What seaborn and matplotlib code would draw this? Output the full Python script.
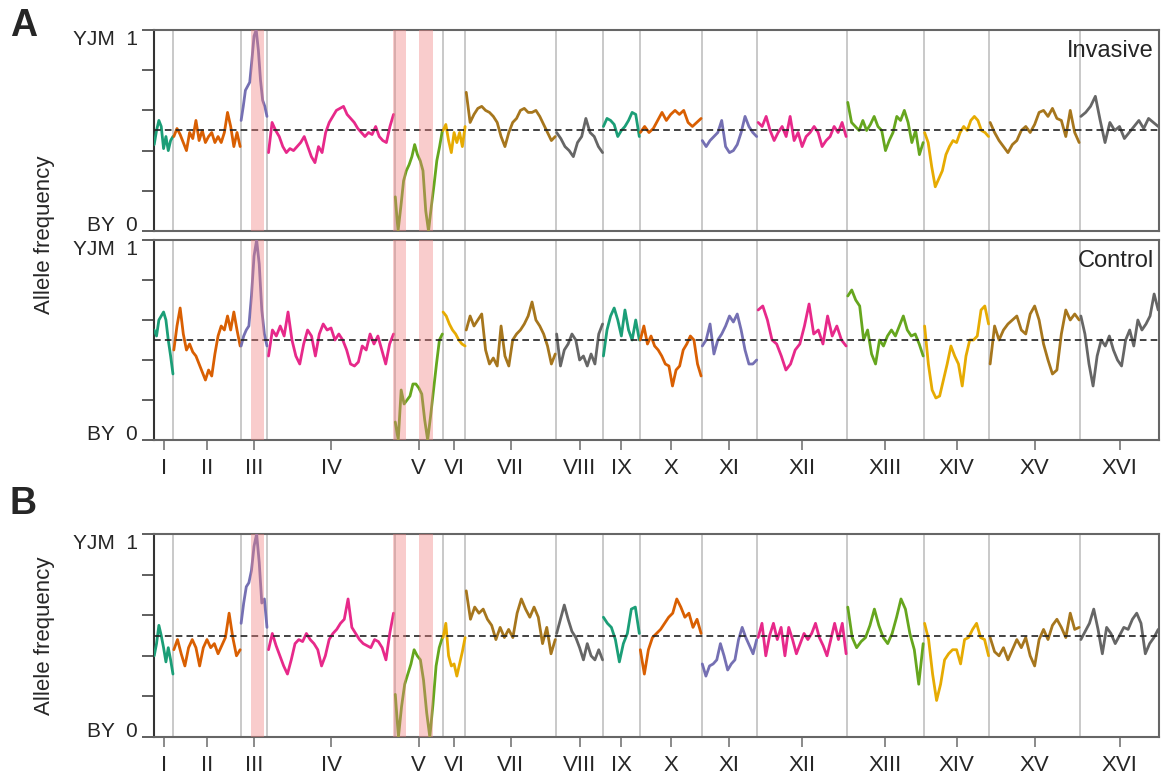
import matplotlib
matplotlib.use("Agg")
import matplotlib.pyplot as plt
import numpy as np
import pandas as pd
import seaborn as sns

# yeast chromosomes, lengths in kb
CHROM_NAMES = ['I', 'II', 'III', 'IV', 'V', 'VI', 'VII', 'VIII', 'IX', 'X',
               'XI', 'XII', 'XIII', 'XIV', 'XV', 'XVI']
CHROM_LEN_KB = [230, 813, 317, 1532, 577, 270, 1091, 563, 440, 745,
                667, 1078, 924, 784, 1091, 948]

# shaded regions (kb, genome coordinates)
BANDS_KB = [(1165, 1321), (2865, 3025), (3185, 3345)]

# allele frequency traces, read along each chromosome (evenly spaced)
INVASIVE = [
    [0.43, 0.50, 0.55, 0.52, 0.41, 0.47, 0.40, 0.45, 0.47],
    [0.47, 0.51, 0.48, 0.44, 0.40, 0.49, 0.46, 0.55, 0.45, 0.50, 0.44, 0.47, 0.49, 0.44, 0.47, 0.44,
     0.49, 0.59, 0.52, 0.42, 0.49, 0.42],
    [0.55, 0.62, 0.70, 0.72, 0.74, 0.85, 0.97, 1.0, 0.90, 0.75, 0.65, 0.62, 0.57],
    [0.39, 0.54, 0.50, 0.47, 0.42, 0.39, 0.41, 0.40, 0.42, 0.44, 0.47, 0.42, 0.37, 0.34, 0.42, 0.39,
     0.49, 0.54, 0.57, 0.60, 0.61, 0.62, 0.58, 0.56, 0.54, 0.51, 0.49, 0.47, 0.49, 0.48, 0.52, 0.47,
     0.45, 0.44, 0.52, 0.58],
    [0.17, 0.0, 0.12, 0.25, 0.30, 0.33, 0.37, 0.43, 0.38, 0.35, 0.30, 0.10, 0.0, 0.12, 0.23, 0.35,
     0.42, 0.50],
    [0.50, 0.53, 0.45, 0.39, 0.49, 0.44, 0.49, 0.42, 0.52],
    [0.69, 0.54, 0.58, 0.61, 0.62, 0.60, 0.59, 0.57, 0.54, 0.47, 0.42, 0.49, 0.54, 0.56, 0.60, 0.61,
     0.59, 0.59, 0.60, 0.57, 0.53, 0.49, 0.45, 0.47],
    [0.49, 0.46, 0.42, 0.40, 0.37, 0.44, 0.47, 0.56, 0.49, 0.47, 0.42, 0.39],
    [0.52, 0.56, 0.55, 0.53, 0.47, 0.50, 0.52, 0.55, 0.59, 0.58, 0.47],
    [0.49, 0.52, 0.49, 0.51, 0.55, 0.59, 0.55, 0.58, 0.60, 0.58, 0.60, 0.54, 0.52, 0.54, 0.56],
    [0.45, 0.42, 0.45, 0.47, 0.49, 0.55, 0.42, 0.39, 0.40, 0.43, 0.49, 0.57, 0.52, 0.49, 0.47],
    [0.54, 0.52, 0.57, 0.50, 0.45, 0.49, 0.52, 0.47, 0.57, 0.45, 0.49, 0.42, 0.47, 0.49, 0.52, 0.49,
     0.42, 0.45, 0.47, 0.52, 0.49, 0.54, 0.47],
    [0.64, 0.54, 0.52, 0.50, 0.55, 0.50, 0.53, 0.57, 0.52, 0.50, 0.40, 0.45, 0.49, 0.57, 0.55, 0.60,
     0.54, 0.44, 0.50, 0.38, 0.44],
    [0.49, 0.44, 0.32, 0.22, 0.26, 0.30, 0.38, 0.42, 0.45, 0.44, 0.49, 0.52, 0.50, 0.55, 0.57, 0.55,
     0.50, 0.49, 0.47],
    [0.54, 0.49, 0.45, 0.42, 0.39, 0.43, 0.45, 0.50, 0.52, 0.49, 0.53, 0.59, 0.60, 0.57, 0.61, 0.56,
     0.55, 0.47, 0.60, 0.49, 0.44],
    [0.57, 0.59, 0.62, 0.67, 0.55, 0.44, 0.54, 0.50, 0.52, 0.46, 0.49, 0.52, 0.55, 0.51, 0.56, 0.54,
     0.52],
]

CONTROL = [
    [0.55, 0.52, 0.60, 0.62, 0.64, 0.60, 0.50, 0.42, 0.33],
    [0.45, 0.57, 0.66, 0.53, 0.45, 0.48, 0.44, 0.42, 0.38, 0.34, 0.30, 0.35, 0.32, 0.43, 0.52, 0.57,
     0.55, 0.62, 0.55, 0.64, 0.55, 0.47],
    [0.47, 0.52, 0.55, 0.57, 0.72, 0.92, 1.0, 0.88, 0.65, 0.53, 0.47],
    [0.42, 0.55, 0.52, 0.57, 0.52, 0.64, 0.50, 0.42, 0.38, 0.48, 0.55, 0.52, 0.42, 0.53, 0.58, 0.55,
     0.56, 0.50, 0.53, 0.50, 0.45, 0.38, 0.37, 0.39, 0.47, 0.45, 0.53, 0.48, 0.52, 0.45, 0.38, 0.48,
     0.53],
    [0.09, 0.0, 0.25, 0.18, 0.20, 0.22, 0.28, 0.28, 0.26, 0.23, 0.10, 0.0, 0.12, 0.25, 0.38, 0.50,
     0.53],
    [0.64, 0.62, 0.58, 0.55, 0.53, 0.50, 0.48, 0.47],
    [0.55, 0.62, 0.57, 0.60, 0.63, 0.45, 0.38, 0.41, 0.37, 0.57, 0.42, 0.37, 0.50, 0.53, 0.55, 0.58,
     0.62, 0.69, 0.60, 0.57, 0.53, 0.47, 0.38, 0.43],
    [0.53, 0.37, 0.45, 0.48, 0.53, 0.50, 0.40, 0.42, 0.37, 0.43, 0.38, 0.53, 0.58],
    [0.42, 0.55, 0.62, 0.66, 0.60, 0.52, 0.65, 0.55, 0.50, 0.60, 0.50],
    [0.50, 0.57, 0.48, 0.52, 0.47, 0.45, 0.42, 0.38, 0.37, 0.27, 0.35, 0.37, 0.45, 0.48, 0.52, 0.50,
     0.38, 0.32],
    [0.47, 0.50, 0.58, 0.43, 0.50, 0.53, 0.57, 0.62, 0.59, 0.63, 0.55, 0.45, 0.38, 0.38, 0.40],
    [0.65, 0.67, 0.60, 0.50, 0.48, 0.42, 0.35, 0.38, 0.45, 0.48, 0.57, 0.68, 0.53, 0.55, 0.48, 0.62,
     0.52, 0.57, 0.50, 0.47],
    [0.72, 0.75, 0.70, 0.67, 0.50, 0.55, 0.43, 0.38, 0.50, 0.47, 0.52, 0.55, 0.52, 0.57, 0.62, 0.55,
     0.52, 0.53, 0.48, 0.42],
    [0.57, 0.38, 0.25, 0.21, 0.22, 0.30, 0.38, 0.47, 0.42, 0.38, 0.27, 0.42, 0.50, 0.50, 0.52, 0.65,
     0.67, 0.58],
    [0.38, 0.57, 0.50, 0.55, 0.58, 0.60, 0.62, 0.55, 0.53, 0.63, 0.67, 0.60, 0.48, 0.40, 0.33, 0.35,
     0.53, 0.65, 0.60, 0.63, 0.60],
    [0.62, 0.53, 0.38, 0.27, 0.42, 0.50, 0.47, 0.52, 0.45, 0.40, 0.37, 0.50, 0.55, 0.47, 0.60, 0.55,
     0.58, 0.62, 0.73, 0.65],
]

PANEL_B = [
    [0.40, 0.46, 0.55, 0.50, 0.44, 0.37, 0.44, 0.38, 0.31],
    [0.43, 0.48, 0.41, 0.35, 0.44, 0.48, 0.44, 0.35, 0.44, 0.48, 0.44, 0.46, 0.41, 0.45, 0.49, 0.61,
     0.49, 0.40, 0.43],
    [0.56, 0.66, 0.74, 0.76, 0.82, 0.94, 1.0, 0.86, 0.66, 0.68, 0.54],
    [0.43, 0.51, 0.45, 0.40, 0.35, 0.31, 0.38, 0.46, 0.48, 0.47, 0.51, 0.48, 0.46, 0.43, 0.35, 0.40,
     0.48, 0.51, 0.53, 0.56, 0.58, 0.68, 0.54, 0.51, 0.48, 0.46, 0.45, 0.44, 0.48, 0.47, 0.44, 0.38,
     0.51, 0.61],
    [0.21, 0.0, 0.15, 0.26, 0.31, 0.36, 0.43, 0.40, 0.38, 0.28, 0.12, 0.0, 0.16, 0.35, 0.44, 0.49],
    [0.49, 0.56, 0.40, 0.35, 0.36, 0.30, 0.36, 0.42, 0.49],
    [0.72, 0.58, 0.64, 0.61, 0.63, 0.58, 0.55, 0.48, 0.54, 0.49, 0.53, 0.49, 0.61, 0.68, 0.63, 0.59,
     0.64, 0.59, 0.46, 0.54, 0.41, 0.48],
    [0.51, 0.58, 0.65, 0.58, 0.52, 0.49, 0.44, 0.38, 0.46, 0.40, 0.38, 0.43, 0.38],
    [0.59, 0.56, 0.54, 0.48, 0.37, 0.46, 0.51, 0.63, 0.64, 0.51],
    [0.43, 0.31, 0.43, 0.49, 0.51, 0.53, 0.56, 0.59, 0.61, 0.68, 0.64, 0.59, 0.61, 0.54, 0.58, 0.51],
    [0.36, 0.30, 0.35, 0.36, 0.38, 0.46, 0.40, 0.33, 0.36, 0.38, 0.48, 0.54, 0.49, 0.45, 0.41, 0.48],
    [0.49, 0.56, 0.40, 0.50, 0.56, 0.48, 0.54, 0.40, 0.54, 0.48, 0.41, 0.46, 0.51, 0.48, 0.51, 0.56,
     0.49, 0.45, 0.40, 0.48, 0.56, 0.48, 0.56, 0.41],
    [0.64, 0.49, 0.44, 0.47, 0.49, 0.55, 0.63, 0.55, 0.49, 0.46, 0.51, 0.59, 0.68, 0.63, 0.51, 0.43,
     0.26, 0.46],
    [0.56, 0.48, 0.31, 0.18, 0.26, 0.38, 0.41, 0.43, 0.43, 0.36, 0.48, 0.49, 0.53, 0.56, 0.49, 0.48,
     0.40],
    [0.49, 0.42, 0.40, 0.44, 0.38, 0.43, 0.48, 0.44, 0.49, 0.40, 0.35, 0.48, 0.53, 0.48, 0.55, 0.58,
     0.54, 0.49, 0.61, 0.53, 0.54],
    [0.48, 0.52, 0.56, 0.63, 0.53, 0.41, 0.54, 0.51, 0.46, 0.50, 0.54, 0.53, 0.58, 0.61, 0.56, 0.41,
     0.46, 0.49, 0.53],
]

sns.set_style('white')
plt.rcParams['font.family'] = ['Liberation Sans', 'DejaVu Sans']

ends = np.cumsum(CHROM_LEN_KB)
starts = ends - np.array(CHROM_LEN_KB)
mids = starts + np.array(CHROM_LEN_KB) / 2
genome_len = ends[-1]
palette = sns.color_palette('Dark2', 8) * 2


def to_frame(traces):
    rows = []
    for name, s, L, vals in zip(CHROM_NAMES, starts, CHROM_LEN_KB, traces):
        pos = s + np.linspace(0.01, 0.99, len(vals)) * L
        rows.append(pd.DataFrame({'chrom': name, 'pos': pos, 'freq': vals}))
    return pd.concat(rows, ignore_index=True)


def draw_panel(ax, traces, label=None, xticks=True):
    for e in ends[:-1]:
        ax.axvline(e, color='#c9c9c9', lw=1.4, zorder=1)
    ax.axhline(0.5, color='#222222', lw=1.2, dashes=(4, 2.5), zorder=4)
    sns.lineplot(data=to_frame(traces), x='pos', y='freq', hue='chrom',
                 hue_order=CHROM_NAMES, palette=palette, legend=False,
                 estimator=None, sort=False, lw=2.0, ax=ax, zorder=3)
    for a, b in BANDS_KB:
        ax.axvspan(a, b, color='#f08080', alpha=0.4, lw=0, zorder=5)
    ax.set_xlim(0, genome_len)
    ax.set_ylim(0, 1)
    ax.set_xlabel('')
    ax.set_ylabel('')
    ax.set_yticks(np.linspace(0, 1, 6))
    ax.set_yticklabels(['BY  0', '', '', '', '', 'YJM  1'])
    ax.tick_params(axis='y', direction='out', length=8.5, width=1.2,
                   color='#444444', labelsize=15, pad=3, left=True)
    tl = ax.get_yticklabels()
    tl[0].set_va('baseline')
    tl[-1].set_va('top')
    if xticks:
        ax.set_xticks(mids)
        ax.set_xticklabels(CHROM_NAMES)
        ax.tick_params(axis='x', direction='out', length=7, width=1.2,
                       color='#777777', labelsize=16, pad=6, bottom=True)
    else:
        ax.set_xticks([])
    for side in ['top', 'right', 'bottom']:
        ax.spines[side].set_color('#666666')
        ax.spines[side].set_linewidth(1.5)
    ax.spines['left'].set_color('#333333')
    ax.spines['left'].set_linewidth(1.5)
    if label:
        ax.text(0.995, 0.95, label, transform=ax.transAxes, ha='right',
                va='top', fontsize=17, zorder=6)


W, H = 1161, 779
fig = plt.figure(figsize=(W / 100, H / 100), dpi=100)
left, width = 154 / W, 1005 / W
ax1 = fig.add_axes([left, 1 - 231 / H, width, 201 / H])
ax2 = fig.add_axes([left, 1 - 440 / H, width, 200 / H])
ax3 = fig.add_axes([left, 1 - 737 / H, width, 203 / H])

draw_panel(ax1, INVASIVE, 'Invasive', xticks=False)
draw_panel(ax2, CONTROL, 'Control')
draw_panel(ax3, PANEL_B)

fig.text(45 / W, 1 - 235 / H, 'Allele frequency', rotation=90, ha='center',
         va='center', fontsize=16)
fig.text(45 / W, 1 - 636 / H, 'Allele frequency', rotation=90, ha='center',
         va='center', fontsize=16)
fig.text(10 / W, 1 - 8 / H, 'A', fontsize=27, fontweight='bold', va='top')
fig.text(10 / W, 1 - 486 / H, 'B', fontsize=27, fontweight='bold', va='top')

fig.savefig('out.png', dpi=100)
